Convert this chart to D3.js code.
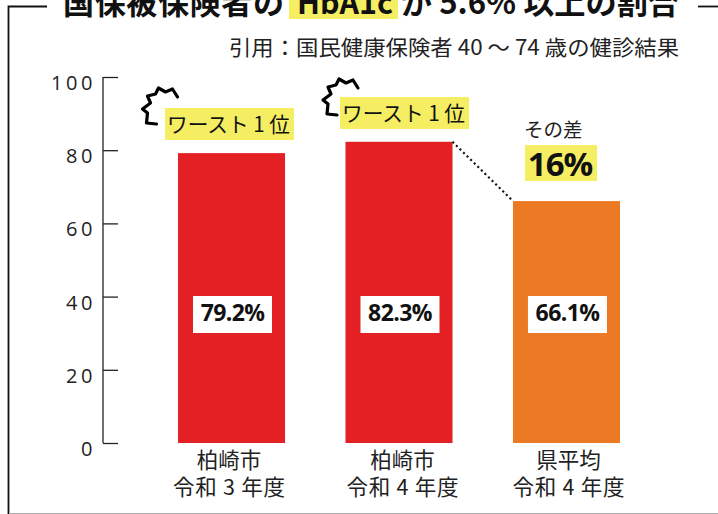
<!DOCTYPE html>
<html lang="ja"><head><meta charset="utf-8">
<script src="https://cdn.jsdelivr.net/npm/d3@7"></script>
<style>html,body{margin:0;padding:0;background:#fff}svg{display:block}text{font-family:"Noto Sans CJK JP","Noto Sans",sans-serif}.lat{font-family:"Open Sans","Noto Sans CJK JP",sans-serif}</style>
</head><body><svg id="c" width="718" height="514"></svg>
<script>
const categories = [0,1,2];
const categories1 = ["柏崎市","柏崎市","県平均"];
const categories2 = ["令和 3 年度","令和 4 年度","令和 4 年度"];
const values = [79.2,82.3,66.1];
const valueLabels = ["79.2%","82.3%","66.1%"];
const barColors = ["#e32124","#e32124","#ec7a25"];
const yTicks = [0,20,40,60,80,100];
const worstLabel = "ワースト 1 位";
const titleParts = ["国保被保険者の","HbA1c","が 5.6% 以上の割合"];
const sourceText = "引用：国民健康保険者 40 ～ 74 歳の健診結果";
const diffLabel = "その差";
const diffValue = "16%";

const svg = d3.select("#c");
const y = d3.scaleLinear().domain([0,100]).range([443,77]);
const x = d3.scaleBand().domain(categories).range([178,620]).paddingInner(0.361).paddingOuter(0);
const labelShift = [-2.5,3.5,2];
const yellow = "#f5ee62";

// frame
svg.append("path").attr("d","M47 6.5H8.5V514").attr("fill","none").attr("stroke","#111").attr("stroke-width",1.8);
svg.append("path").attr("d","M698 6.5H718").attr("fill","none").attr("stroke","#111").attr("stroke-width",1.8);
svg.append("line").attr("x1",9).attr("x2",718).attr("y1",513.5).attr("y2",513.5).attr("stroke","#aaa").attr("stroke-width",1);

// title
svg.append("rect").attr("x",289).attr("y",0).attr("width",109).attr("height",19).attr("fill",yellow);
const t = svg.append("text").attr("y",14).attr("font-size",31).attr("font-weight",700).attr("fill","#111");
t.append("tspan").attr("x",63).attr("textLength",221).text(titleParts[0]);
t.append("tspan").attr("x",297).attr("textLength",96).attr("lengthAdjust","spacingAndGlyphs").text(titleParts[1]);
t.append("tspan").attr("x",401).attr("textLength",278).attr("lengthAdjust","spacingAndGlyphs").text(titleParts[2]);

svg.append("text").attr("x",229).attr("y",55).attr("textLength",450).attr("lengthAdjust","spacingAndGlyphs")
  .attr("font-size",21).attr("fill","#222").text(sourceText);

// axis
const axis = d3.axisRight(y).tickValues(yTicks).tickSize(15).tickFormat("");
const ga = svg.append("g").attr("transform","translate(103,0)").call(axis);
ga.selectAll("path,line").attr("stroke","#222").attr("stroke-width",1.3);
ga.select(".domain").attr("d","M0 77V443");
svg.selectAll(".yl").data(yTicks).join("text").attr("class","yl lat")
  .attr("x",96).attr("y",d=>y(d)+13).attr("text-anchor","end")
  .attr("font-size",20).attr("letter-spacing",3.6).attr("fill","#222").text(d=>d);

// bars
svg.selectAll(".bar").data(values).join("rect").attr("class","bar")
  .attr("x",(d,i)=>x(i)).attr("width",x.bandwidth()).attr("y",d=>y(d)).attr("height",d=>y(0)-y(d))
  .attr("fill",(d,i)=>barColors[i]);

// value labels
svg.selectAll(".vb").data(values).join("rect").attr("class","vb")
  .attr("x",(d,i)=>x(i)+15).attr("y",296).attr("width",79).attr("height",37).attr("fill","#fff");
svg.selectAll(".vl").data(valueLabels).join("text").attr("class","vl lat")
  .attr("x",(d,i)=>x(i)+54.5).attr("y",321).attr("text-anchor","middle")
  .attr("font-size",23).attr("font-weight",700).attr("letter-spacing",-0.6).attr("fill","#111").text(d=>d);

// category labels
svg.selectAll(".c1").data(categories1).join("text").attr("class","c1")
  .attr("x",(d,i)=>x(i)+x.bandwidth()/2+labelShift[i]).attr("y",468).attr("text-anchor","middle").attr("font-size",21.5).attr("fill","#222").text(d=>d);
svg.selectAll(".c2").data(categories2).join("text").attr("class","c2")
  .attr("x",(d,i)=>x(i)+x.bandwidth()/2+labelShift[i]-56).attr("y",495).attr("textLength",112).attr("lengthAdjust","spacing")
  .attr("font-size",21.5).attr("fill","#222").text(d=>d);

// worst labels
[[165,108,129,32],[340,97,129,32]].forEach(([bx,by,w,h])=>{
  svg.append("rect").attr("x",bx).attr("y",by).attr("width",w).attr("height",h).attr("fill",yellow);
  svg.append("text").attr("x",bx+2).attr("y",by+24).attr("textLength",123).attr("lengthAdjust","spacingAndGlyphs")
    .attr("font-size",21).attr("fill","#111").text(worstLabel);
});
// bursts
const burstPts = [[0,0],[-5,-8],[-12,-5],[-19,-9],[-22,-3],[-30,-1],[-27,6],[-35,12],[-30,16],[-31,26],[-21,27]];
const burst = d3.line();
[[177.5,97],[358,88]].forEach(([a,b])=>{
  svg.append("path").attr("d",burst(burstPts)).attr("transform",`translate(${a},${b})`)
   .attr("fill","none").attr("stroke","#000").attr("stroke-width",3.2).attr("stroke-linejoin","round").attr("stroke-linecap","round");
});

// diff
svg.append("line").attr("x1",x(1)+x.bandwidth()).attr("y1",y(82.3)).attr("x2",x(2)).attr("y2",y(66.1))
 .attr("stroke","#111").attr("stroke-width",2.2).attr("stroke-dasharray","2 3");
svg.append("text").attr("x",524).attr("y",137).attr("font-size",19.5).attr("fill","#222").text(diffLabel);
svg.append("rect").attr("x",525).attr("y",145).attr("width",72).attr("height",36).attr("fill",yellow);
svg.append("text").attr("class","lat").attr("x",560).attr("y",176).attr("text-anchor","middle").attr("font-size",33).attr("font-weight",700).attr("letter-spacing",-1).attr("fill","#111").text(diffValue);
</script></body></html>
